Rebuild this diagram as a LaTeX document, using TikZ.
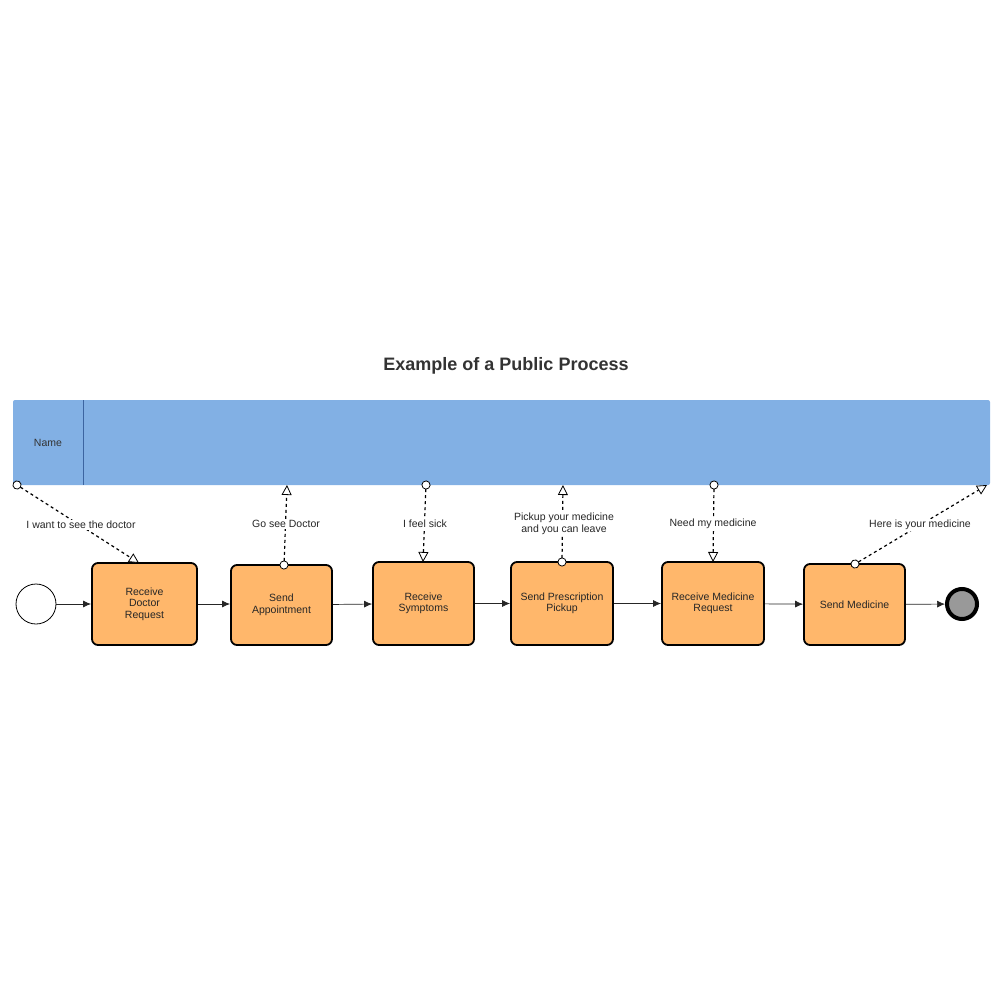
\documentclass[tikz,border=0pt]{standalone}
\usepackage{fontspec}
\setmainfont{Liberation Sans}
\usetikzlibrary{arrows.meta}
\begin{document}
\begin{tikzpicture}[x=1pt,y=-1pt,
 task/.style={draw,line width=1.8pt,rounded corners=6pt,fill={rgb,255:red,255;green,183;blue,107},align=center,font=\fontsize{10.5}{11.5}\selectfont,text=black!85},
 flow/.style={-{Latex[length=8pt,width=7pt]},draw=black!85,line width=0.7pt},
 msg/.style={dashed,line width=1.2pt,shorten <=-4.5pt,{Circle[open,length=9pt,width=9pt,fill=white,line width=0.8pt]}-{Triangle[open,length=10pt,width=10pt,fill=white,line width=0.8pt]}},
 lbl/.style={fill=white,inner sep=1pt,font=\fontsize{10.5}{11.5}\selectfont,text=black!85,align=center}]
\useasboundingbox (0,0) rectangle (1000,1000);
\node[font=\bfseries\fontsize{18}{21}\selectfont,text=black!80] (title) at (506,366) {Example of a Public Process};
\fill[rounded corners=2pt,fill={rgb,255:red,130;green,176;blue,228}] (13,400) rectangle (990,485);
\draw[draw={rgb,255:red,60;green,100;blue,160}] (83,400) -- (83,485);
\node[font=\fontsize{10.5}{11.5}\selectfont,text=black!80] (name) at (48,443) {Name};
\node[draw,circle,minimum size=40pt,line width=0.8pt] (s) at (36,604) {};
\node[draw,circle,minimum size=30pt,line width=4pt,fill=black!40] (e) at (962,604) {};
\node[task,minimum width=105pt,minimum height=82pt] (t1) at (144.5,604) {Receive\\Doctor\\Request};
\node[task,minimum width=101pt,minimum height=80pt] (t2) at (281.5,605) {Send\\Appointment};
\node[task,minimum width=101pt,minimum height=83pt] (t3) at (423.5,603.5) {Receive\\Symptoms};
\node[task,minimum width=102pt,minimum height=83pt] (t4) at (562,603.5) {Send Prescription\\Pickup};
\node[task,minimum width=102pt,minimum height=83pt] (t5) at (713,603.5) {Receive Medicine\\Request};
\node[task,minimum width=101pt,minimum height=81pt] (t6) at (854.5,604.5) {Send Medicine};
\draw[flow] (s) -- (t1);
\draw[flow] (t1.east) -- (t2.west |- t1.east);
\draw[flow] (t2) -- (t3);
\draw[flow] (t3) -- (t4);
\draw[flow] (t4) -- (t5);
\draw[flow] (t5) -- (t6);
\draw[flow] (t6) -- (e);
\coordinate (p1) at (17,485); \coordinate (p2) at (287,485); \coordinate (p3) at (426,485);
\coordinate (p4) at (563,485); \coordinate (p5) at (714,485); \coordinate (p6) at (987,485);
\draw[msg] (p1) -- (139,563);
\draw[msg] (284,565) -- (p2);
\draw[msg] (p3) -- (423,562);
\draw[msg] (562,562) -- (p4);
\draw[msg] (p5) -- (713,562);
\draw[msg] (855,564) -- (p6);
\node[lbl] (m1) at (81,525) {I want to see the doctor};
\node[lbl] (m2) at (286,524) {Go see Doctor};
\node[lbl] (m3) at (425,524) {I feel sick};
\node[lbl,font=\fontsize{10.5}{12}\selectfont] (m4) at (564,524) {Pickup your medicine\\and you can leave};
\node[lbl] (m5) at (713,524) {Need my medicine};
\node[lbl] (m6) at (920,525) {Here is your medicine};
\end{tikzpicture}
\end{document}
